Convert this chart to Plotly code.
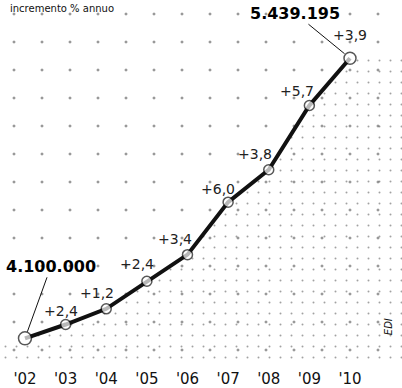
import plotly.graph_objects as go

# Resident population, 2002-2010, with yearly % growth
years = ["'02", "'03", "'04", "'05", "'06", "'07", "'08", "'09", "'10"]
population = [4100000, 4166000, 4241000, 4373000, 4500000, 4751000, 4906000, 5213000, 5439195]
growth = [None, "+2,4", "+1,2", "+2,4", "+3,4", "+6,0", "+3,8", "+5,7", "+3,9"]
first_label = "4.100.000"
last_label = "5.439.195"
subtitle = "incremento % annuo"

xs = list(range(len(years)))
Y_LO, Y_HI = 3991530, 5717400

fig = go.Figure()

# light stipple across the whole panel
fig.add_trace(go.Scatter(
    x=[-1, 10, 10, -1, -1], y=[Y_LO, Y_LO, Y_HI, Y_HI, Y_LO],
    mode="lines", line=dict(width=0), fill="toself", fillcolor="rgba(0,0,0,0)",
    fillpattern=dict(shape=".", fgcolor="#333", bgcolor="white", size=28, solidity=0.009),
    hoverinfo="skip", showlegend=False))

# denser stipple below the curve
fig.add_trace(go.Scatter(
    x=[-1] + xs + [10], y=[population[0]] + population + [population[-1]],
    mode="lines", line=dict(width=0), fill="tozeroy", fillcolor="rgba(0,0,0,0)",
    fillpattern=dict(shape=".", fgcolor="#444", bgcolor="rgba(0,0,0,0)", size=11, solidity=0.025),
    hoverinfo="skip", showlegend=False))

sizes = [13] + [10] * (len(xs) - 2) + [12]
fig.add_trace(go.Scatter(
    x=xs, y=population, mode="lines+markers",
    line=dict(color="#111", width=4),
    marker=dict(size=sizes, color="white", line=dict(color="#111", width=1.5)),
    hoverinfo="skip", showlegend=False))

pct_font = dict(family="DejaVu Sans", size=14, color="#222")
offsets = [None, (-5, -14), (-9, -16), (-10, -17), (-12, -16), (-10, -13), (-14, -16), (-12, -15), (0, -23)]
for i, txt in enumerate(growth):
    if txt is None:
        continue
    dx, dy = offsets[i]
    fig.add_annotation(x=xs[i], y=population[i], text=txt, showarrow=False,
                       xshift=dx, yshift=-dy, font=pct_font)

big_font = dict(family="DejaVu Sans", size=16, color="#000")
fig.add_annotation(x=xs[0], y=population[0], text="<b>%s</b>" % first_label,
                   showarrow=True, arrowhead=0, arrowwidth=1, arrowcolor="#111",
                   ax=26, ay=-72, standoff=7, font=big_font)
fig.add_annotation(x=xs[-1], y=population[-1], text="<b>%s</b>" % last_label,
                   showarrow=True, arrowhead=0, arrowwidth=1, arrowcolor="#111",
                   ax=-55, ay=-45, standoff=7, font=big_font)

# heading at the top-left corner
fig.add_annotation(xref="paper", yref="paper", x=0.02, y=1.0, yshift=-1,
                   xanchor="left", yanchor="top", text=subtitle, showarrow=False,
                   font=dict(family="DejaVu Sans", size=10, color="#111"))

# credit
fig.add_annotation(xref="paper", yref="paper", x=0.985, y=0.066, textangle=-90,
                   text="<i>EDI</i>", showarrow=False,
                   font=dict(family="DejaVu Sans", size=10, color="#111"))

fig.update_layout(
    width=402, height=388, margin=dict(l=0, r=0, t=0, b=22),
    paper_bgcolor="white", plot_bgcolor="white",
    xaxis=dict(range=[-0.615, 9.28], tickvals=xs, ticktext=years,
               showgrid=False, zeroline=False, showline=False, ticks="",
               ticklabelstandoff=7,
               tickfont=dict(family="DejaVu Sans", size=15, color="#111")),
    yaxis=dict(range=[Y_LO, Y_HI], visible=False, showgrid=False, zeroline=False),
)

fig.write_html("out.html")
